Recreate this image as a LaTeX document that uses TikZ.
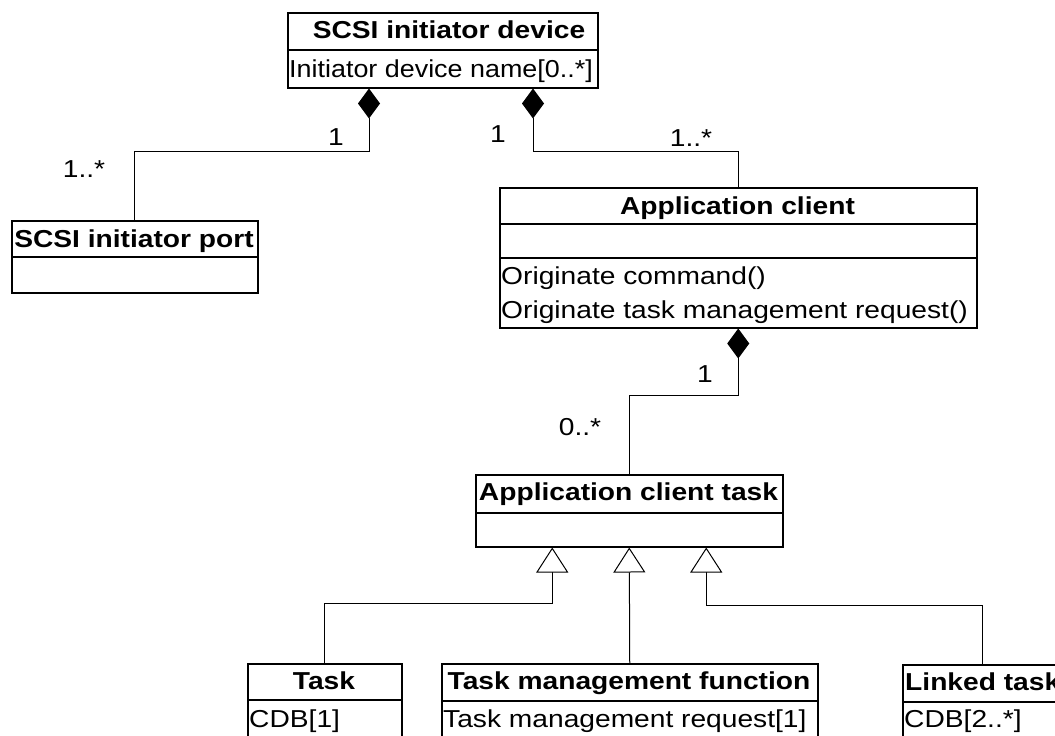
\documentclass[tikz,border=0pt]{standalone}
\usepackage{fontspec}
\setmainfont{Liberation Sans}[FakeStretch=1.15]
\usetikzlibrary{calc,arrows.meta}
\begin{document}
\begin{tikzpicture}[x=1pt,y=-1pt,
  box/.style={draw, line width=1.5pt, fill=white, inner sep=0pt, anchor=north west},
  sepline/.style={line width=1.5pt},
  txt/.style={inner sep=0pt, font=\fontsize{24.5}{29}\selectfont},
  ttl/.style={txt, anchor=base, font=\fontsize{24.5}{29}\selectfont\bfseries},
  attr/.style={txt, anchor=base west},
  mult/.style={txt, anchor=base},
  conn/.style={line width=1pt},
  dia/.style={{Diamond[length=30pt,width=22pt]}-},
  gen/.style={{Triangle[length=25pt,width=32pt,fill=white]}-}
]
\useasboundingbox (0,0) rectangle (1055,736);
\clip (0,0) rectangle (1055,736);
\fill[white] (0,0) rectangle (1055,736);

% SCSI initiator device
\node[box, minimum width=310pt, minimum height=75pt] (dev) at (287,12) {};
\draw[sepline] (dev.west |- 0,50) -- (dev.east |- 0,50);
\node[ttl] (devt) at (449,38) {SCSI initiator device};
\node[attr] (deva) at (289,77) {\scalebox{0.955}[1]{Initiator device name[0..*]}};

% SCSI initiator port
\node[box, minimum width=246pt, minimum height=72pt] (port) at (11,220) {};
\draw[sepline] (port.west |- 0,257) -- (port.east |- 0,257);
\node[ttl] (portt) at (134,247) {SCSI initiator port};

% Application client
\node[box, minimum width=477pt, minimum height=140pt] (ac) at (499,187) {};
\draw[sepline] (ac.west |- 0,224) -- (ac.east |- 0,224);
\draw[sepline] (ac.west |- 0,258) -- (ac.east |- 0,258);
\node[ttl] (act1) at (737.5,214) {Application client};
\node[attr] (acm1) at (501,284) {Originate command()};
\node[attr] (acm2) at (501,318) {Originate task management request()};

% Application client task
\node[box, minimum width=307pt, minimum height=72pt] (act) at (475,474) {};
\draw[sepline] (act.west |- 0,513) -- (act.east |- 0,513);
\node[ttl] (actt) at (628.5,500) {Application client task};

% Task
\node[box, minimum width=154pt, minimum height=110pt] (task) at (247,663) {};
\draw[sepline] (task.west |- 0,700) -- (task.east |- 0,700);
\node[ttl] (taskt) at (324,689) {Task};
\node[attr] (taska) at (249,727) {CDB[1]};

% Task management function
\node[box, minimum width=376pt, minimum height=110pt] (tmf) at (441,663) {};
\draw[sepline] (tmf.west |- 0,701) -- (tmf.east |- 0,701);
\node[ttl] (tmft) at (629,689) {Task management function};
\node[attr] (tmfa) at (443,727) {Task management request[1]};

% Linked task
\node[box, minimum width=160pt, minimum height=110pt] (lt) at (902,664) {};
\draw[sepline] (lt.west |- 0,702) -- (lt.east |- 0,702);
\node[ttl, anchor=base west] (ltt) at (905,690) {Linked task};
\node[attr] (lta) at (904,727) {CDB[2..*]};

% compositions
\draw[conn, dia] ($(dev.south west)+(82,0)$) -- ++(0,63) -| (port.north);
\draw[conn, dia] ($(dev.south west)+(246,0)$) -- ++(0,63) -| (ac.north);
\draw[conn, dia] (ac.south) -- ++(0,67) -| (act.north);

% generalizations
\draw[conn, gen] ($(act.south)+(-77,0)$) -- ++(0,56) -| (task.north);
\draw[conn, gen] (act.south) -- (tmf.north);
\draw[conn, gen] ($(act.south)+(77,0)$) -- ++(0,58) -| (lt.north);

% multiplicities
\node[mult] (m1) at (336,145) {1};
\node[mult] (m2) at (84,177) {1..*};
\node[mult] (m3) at (498,142) {1};
\node[mult] (m4) at (691,146) {1..*};
\node[mult] (m5) at (705,382) {1};
\node[mult] (m6) at (580,435) {0..*};
\end{tikzpicture}
\end{document}
